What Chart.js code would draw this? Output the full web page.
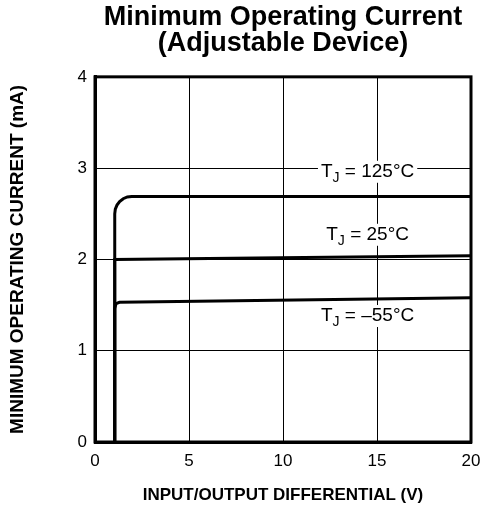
<!DOCTYPE html>
<html>
<head>
<meta charset="utf-8">
<script src="https://cdn.jsdelivr.net/npm/chart.js@4/dist/chart.umd.min.js"></script>
<style>
html,body{margin:0;padding:0;background:#fff;}
#wrap{width:481px;height:506px;}
</style>
</head>
<body>
<div id="wrap"><canvas id="c" width="481" height="506"></canvas></div>
<script>
// values
const xHot=[1.05,1.05,1.08,1.17,1.31,1.5,1.72,1.95,20];
const yHot=[0,2.5,2.55,2.595,2.634,2.665,2.684,2.69,2.69];
const xRoom=[1.05,1.05,20];
const yRoom=[0,2.0,2.04];
const xCold=[1.05,1.05,1.12,1.3,20];
const yCold=[0,1.46,1.515,1.53,1.58];
const xTicks=[0,5,10,15,20];
const yTicks=[0,1,2,3,4];
const labelText=["125°C","25°C","–55°C"];
const labelX=[14.5,14.5,14.5];
const labelY=[2.96,2.27,1.38];

function pts(xs,ys){
return xs.map((x,i)=>({x:x,y:ys[i]}));
}

const F="'Liberation Sans', Arial, sans-serif";

const frame={
id:"frame",
afterDraw(ch){
let a=ch.chartArea,g=ch.ctx;
g.save();
g.strokeStyle="#000";
g.lineWidth=3;
g.strokeRect(a.left,a.top,a.right-a.left,a.bottom-a.top);
g.restore();
}
};

const tjLabels={
id:"tjLabels",
afterDatasetsDraw(ch){
let g=ch.ctx,sx=ch.scales.x,sy=ch.scales.y;
g.save();
labelText.forEach((t,i)=>{
let cx=sx.getPixelForValue(labelX[i]);
let cy=sy.getPixelForValue(labelY[i]);
g.font="19px "+F;
let wT=g.measureText("T").width;
g.font="14px "+F;
let wJ=g.measureText("J").width;
g.font="19px "+F;
let rest=" = "+t;
let wR=g.measureText(rest).width;
let w=wT+wJ+wR;
let x0=cx-w/2;
g.fillStyle="#fff";
g.fillRect(x0-3,cy-11,w+6,22);
g.fillStyle="#000";
g.textBaseline="middle";
g.textAlign="left";
g.fillText("T",x0,cy);
g.font="14px "+F;
g.fillText("J",x0+wT,cy+6);
g.font="19px "+F;
g.fillText(rest,x0+wT+wJ,cy);
});
g.restore();
}
};

const line=(d)=>({data:d,borderColor:"#000",borderWidth:3,pointRadius:0,showLine:true,tension:0,fill:false});

new Chart(document.getElementById("c"),{
type:"scatter",
data:{
datasets:[line(pts(xHot,yHot)),line(pts(xRoom,yRoom)),line(pts(xCold,yCold))]
},
options:{
responsive:false,
animation:false,
layout:{padding:{left:0,right:0,top:0,bottom:0}},
plugins:{
legend:{display:false},
tooltip:{enabled:false},
title:{
display:true,
fullSize:false,
text:["Minimum Operating Current","(Adjustable Device)"],
color:"#000",
font:{family:F,size:27,weight:"bold",lineHeight:0.96},
padding:{top:5,bottom:20}
}
},
scales:{
x:{
type:"linear",
min:0,max:20,
afterBuildTicks(s){s.ticks=xTicks.map(v=>({value:v}));},
grid:{color:"#000",lineWidth:1,drawTicks:false},
border:{color:"#000",width:3},
ticks:{color:"#000",font:{family:F,size:17},padding:9},
title:{display:true,text:"INPUT/OUTPUT DIFFERENTIAL (V)",color:"#000",font:{family:F,size:17,weight:"bold"},padding:{top:10,bottom:0}},
afterFit(s){s.height=64;s.paddingRight=10;s.paddingLeft=0;}
},
y:{
type:"linear",
min:0,max:4,
afterBuildTicks(s){s.ticks=yTicks.map(v=>({value:v}));},
grid:{color:"#000",lineWidth:1,drawTicks:false},
border:{color:"#000",width:3},
ticks:{color:"#000",font:{family:F,size:17},padding:8},
title:{display:true,text:"MINIMUM OPERATING CURRENT (mA)",color:"#000",font:{family:F,size:19,weight:"bold"},padding:{top:6,bottom:6}},
afterFit(s){s.width=95;}
}
}
},
plugins:[frame,tjLabels]
});
</script>
</body>
</html>
